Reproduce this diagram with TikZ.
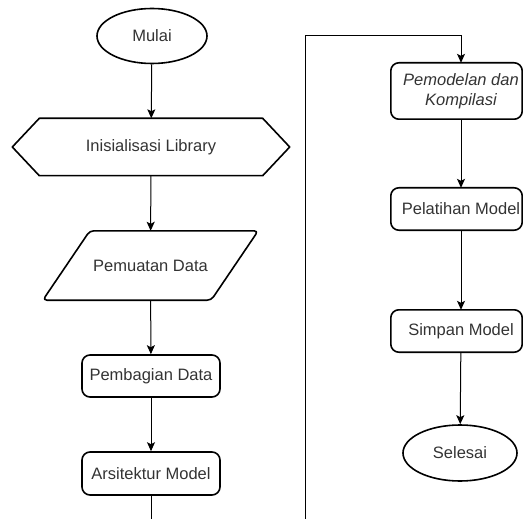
\documentclass[tikz,border=0pt]{standalone}
\usepackage{fontspec}
\setmainfont{Liberation Sans}
\usetikzlibrary{arrows.meta, positioning, calc, shapes.geometric}
\tikzset{
    terminal/.style={draw, line width=1.6pt, ellipse, inner sep=0pt,
        minimum width=110pt, minimum height=55pt, text=black!80},
    process/.style={draw, line width=1.6pt, rounded corners=8pt, inner sep=0pt,
        minimum width=138pt, minimum height=42pt, align=center, text=black!80},
    bare/.style={inner sep=0pt, align=center, text=black!80},
    outline/.style={line width=1.6pt, line join=round},
    link/.style={-{Stealth[length=9pt, width=8pt, inset=2pt]}, line width=1pt},
}

\begin{document}
\begin{tikzpicture}[x=1pt, y=-1pt, font=\fontsize{16.5}{20}\selectfont]
        \useasboundingbox (0,0) rectangle (523,519);
        \clip (0,0) rectangle (523,519);

        % Kolom kiri
        \node[terminal] (mulai) at (152,36) {Mulai};
        \node[bare, minimum width=223pt, minimum height=57pt] (init) at (151,147) {Inisialisasi Library};
        \draw[outline] (init.north west) -- (init.north east) -- ($(init.east)+(27,0)$)
            -- (init.south east) -- (init.south west) -- ($(init.west)+(-27,0)$) -- cycle;
        \node[bare, minimum width=168pt, minimum height=69pt] (muat) at (150.5,265.5) {Pemuatan Data};
        \draw[outline, rounded corners=4pt] ($(muat.north west)+(23.5,0)$) -- ($(muat.north east)+(23.5,0)$)
            -- ($(muat.south east)+(-23.5,0)$) -- ($(muat.south west)+(-23.5,0)$) -- cycle;
        \node[process] (bagi) at (151,376) {Pembagian Data};
        \node[process, minimum height=43pt] (arsi) at (151,473.5) {Arsitektur Model};

        % Kolom kanan
        \node[bare, minimum width=140pt, minimum height=56pt] (model) at (461,91)
            {\itshape Pemodelan dan\\\itshape Kompilasi};
        \node[bare, minimum width=140pt, minimum height=42pt] (latih) at (461,209) {Pelatihan Model};
        \node[bare, minimum width=140pt, minimum height=42pt] (simpan) at (461,331) {Simpan Model};
        \foreach \n in {model,latih,simpan} {
            \draw[outline, rounded corners=8pt] (\n.north west) rectangle ($(\n.south east)+(-9,0)$);
        }
        \node[terminal, minimum width=114pt, minimum height=56pt] (selesai) at (460,453) {Selesai};

        % Penghubung
        \draw[link] (mulai) -- (init);
        \draw[link] (init) -- (muat);
        \draw[link] (muat) -- (bagi);
        \draw[link] (bagi) -- (arsi);
        \coordinate (belok) at (305,36);
        \draw[link] (arsi.south) -- ++(0,60) -| (belok) -| (model.north);
        \draw[link] (model) -- (latih);
        \draw[link] (latih) -- (simpan);
        \draw[link] (simpan) -- (selesai);
    \end{tikzpicture}
\end{document}
